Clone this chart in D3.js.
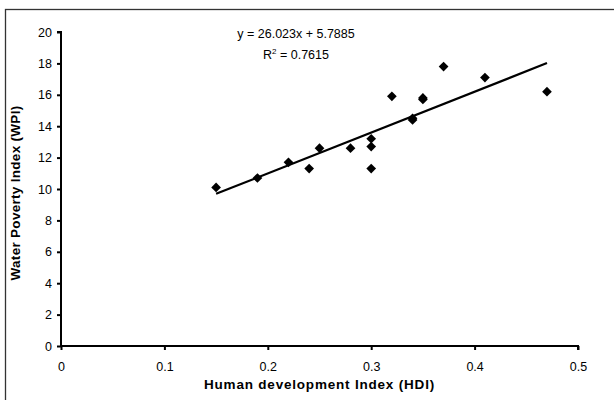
<!DOCTYPE html>
<html><head><meta charset="utf-8">
<script src="https://cdn.jsdelivr.net/npm/d3@7"></script>
<style>body{margin:0;background:#fff}svg{display:block}text{font-family:"Liberation Sans",Arial,sans-serif}</style>
</head><body>
<script>
const hdi = [0.15,0.19,0.22,0.24,0.25,0.28,0.30,0.30,0.30,0.32,0.34,0.34,0.35,0.35,0.37,0.41,0.47];
const wpi = [10.1,10.7,11.7,11.3,12.6,12.6,13.2,12.7,11.3,15.9,14.5,14.4,15.8,15.7,17.8,17.1,16.2];
const xTicks = [0,0.1,0.2,0.3,0.4,0.5];
const yTicks = [0,2,4,6,8,10,12,14,16,18,20];
const slope = 26.023, intercept = 5.7885;
const eqLabel = "y = 26.023x + 5.7885";
const r2Value = "0.7615";
const xTitle = "Human development Index (HDI)";
const yTitle = "Water Poverty Index (WPI)";

const W = 614, H = 400;
const svg = d3.select("body").append("svg").attr("width", W).attr("height", H);
svg.append("rect").attr("x",5.5).attr("y",9.5).attr("width",W+10).attr("height",H+10)
  .attr("fill","#fff").attr("stroke","#333").attr("stroke-width",1.3);

const x = d3.scaleLinear().domain([0,0.5]).range([61,578]);
const y = d3.scaleLinear().domain([0,20]).range([346,32]);

const xa = svg.append("g").attr("transform",`translate(0,${y(0)})`)
  .call(d3.axisBottom(x).tickValues(xTicks).tickFormat(d=>d===0?"0":d3.format(".1f")(d)).tickSize(4).tickPadding(12));
const ya = svg.append("g").attr("transform",`translate(${x(0)},0)`)
  .call(d3.axisLeft(y).tickValues(yTicks).tickFormat(d3.format("d")).tickSize(4).tickPadding(5));
[xa,ya].forEach(g=>{
  g.select(".domain").attr("stroke","#000").attr("stroke-width",2);
  g.selectAll(".tick line").attr("stroke","#000").attr("stroke-width",2);
  g.selectAll(".tick text").attr("font-size",12.5).attr("fill","#000")
    .attr("font-family","'Liberation Sans',Arial,sans-serif");
});
xa.select(".domain").attr("d",`M${x(0)},0H${x(0.5)}V4`);
ya.select(".domain").attr("d",`M-4,${y(20)}H0V${y(0)}`);

// trend line
const xMin = d3.min(hdi), xMax = d3.max(hdi);
svg.append("line")
  .attr("x1",x(xMin)).attr("y1",y(slope*xMin+intercept))
  .attr("x2",x(xMax)).attr("y2",y(slope*xMax+intercept))
  .attr("stroke","#000").attr("stroke-width",2.2);

// points
const sym = d3.symbol().type(d3.symbolDiamond2).size(60);
svg.append("g").selectAll("path").data(hdi.map((v,i)=>[v,wpi[i]])).join("path")
  .attr("d",sym).attr("transform",d=>`translate(${x(d[0])},${y(d[1])})`).attr("fill","#000");

// equation
svg.append("text").attr("x",296).attr("y",38).attr("text-anchor","middle")
  .attr("font-size",12.5).text(eqLabel);
const r2 = svg.append("text").attr("x",296).attr("y",59).attr("text-anchor","middle").attr("font-size",12.5);
r2.append("tspan").text("R");
r2.append("tspan").attr("dy",-5).attr("font-size",8).text("2");
r2.append("tspan").attr("dy",5).text(" = " + r2Value);

// axis titles
svg.append("text").attr("x",(x(0)+x(0.5))/2).attr("y",389).attr("text-anchor","middle")
  .attr("font-size",13.5).attr("letter-spacing",0.8).attr("font-weight","bold").text(xTitle);
svg.append("text").attr("transform",`translate(20,${(y(0)+y(20))/2+4}) rotate(-90)`)
  .attr("text-anchor","middle").attr("font-size",13.5).attr("letter-spacing",0.3).attr("font-weight","bold").text(yTitle);
</script>
</body></html>
